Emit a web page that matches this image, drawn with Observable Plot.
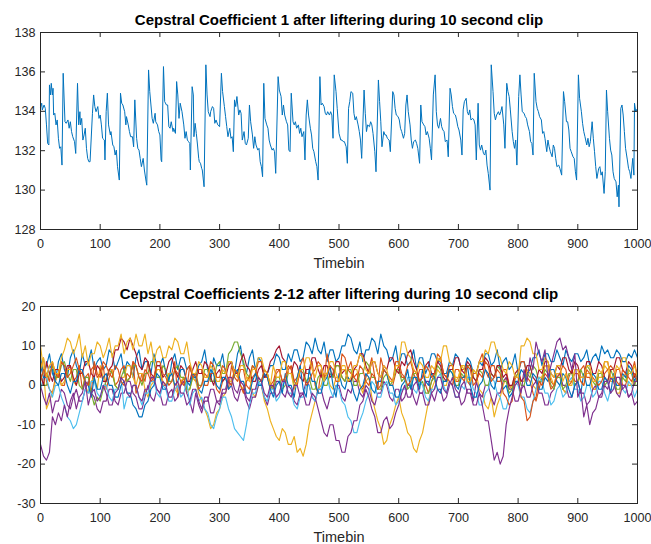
<!DOCTYPE html>
<html><head><meta charset="utf-8">
<script src="https://cdn.jsdelivr.net/npm/d3@7"></script>
<script src="https://cdn.jsdelivr.net/npm/@observablehq/plot@0.6"></script>
<style>
body{margin:0;background:#fff;}
#chart svg{display:block;}
</style></head><body><div id="chart"></div>
<script>
// ---- Data: coefficient 1 ----
const timebin1 = [0,2,3,6,8,10,12,14,15,17,18,20,21,22,24,26,28,30,32,34,36,38,41,43,46,48,50,52,54,57,59,62,64,66,67,69,71,73,75,77,79,81,83,87,89,91,93,96,98,100,102,104,107,108,110,112,114,117,118,121,123,125,127,129,132,134,136,138,141,143,144,147,149,151,154,156,158,161,163,165,167,169,172,174,177,178,181,183,185,187,189,192,193,196,198,200,202,203,206,208,211,213,215,217,219,222,223,226,228,230,232,234,237,240,242,244,246,248,250,251,254,256,257,259,261,263,265,266,268,270,271,274,277,279,281,284,285,288,290,292,294,297,300,303,305,308,310,312,314,317,319,321,323,325,327,329,332,334,336,338,341,343,345,348,350,352,355,357,359,361,364,366,368,370,372,374,376,379,381,383,385,388,390,392,394,398,400,403,405,407,409,412,414,416,418,420,423,425,427,429,432,434,436,438,441,443,445,447,449,452,454,456,458,461,463,465,468,470,472,475,477,479,481,484,486,488,490,492,495,497,500,503,505,507,509,512,514,516,518,520,523,525,527,529,532,534,536,538,542,544,546,548,551,553,555,557,560,562,566,568,570,572,575,577,579,581,584,586,590,592,594,596,599,601,603,605,608,610,612,614,616,619,621,623,625,628,630,632,635,637,639,642,644,646,648,651,653,655,658,661,663,665,667,670,672,674,676,678,681,683,686,688,690,692,695,697,699,701,704,706,708,710,713,715,717,719,721,724,726,728,730,733,735,737,739,742,744,746,748,750,753,755,758,760,762,764,767,769,771,773,776,778,781,783,785,787,790,792,794,796,798,801,803,805,807,810,812,814,816,819,821,823,825,827,830,832,834,836,839,841,843,845,848,850,852,854,857,859,861,863,865,868,870,873,876,878,881,883,885,887,889,892,894,896,898,901,903,906,908,910,912,915,917,919,921,924,926,928,930,932,935,937,939,941,944,946,948,950,953,955,957,959,961,964,966,968,969,972,974,976,978,980,983,985,987,989,992,994,995,997,999];
const coef1 = [134.2,134.41,134.07,134.32,134.15,133.31,132.37,132.29,135.34,134.83,135.42,134.83,135.17,133.81,133.9,133.31,133.56,132.63,132.12,132.2,131.27,135.93,133.47,133.39,133.56,133.14,133.47,132.97,132.71,132.46,131.86,135.42,133.31,133.98,133.31,133.64,132.54,132.8,133.14,132.12,131.61,131.44,131.44,133.9,134.83,134.24,133.98,134.24,133.64,133.81,133.31,132.63,132.54,131.53,133.98,134.92,133.31,132.8,132.97,132.29,132.2,131.78,132.03,131.19,130.51,134.92,134.41,134.32,133.98,133.31,133.73,133.31,132.97,132.71,132.71,132.2,134.58,132.63,132.12,132.03,131.61,131.19,131.61,131.02,130.42,130.25,136.1,135,134.32,133.64,133.39,133.9,133.47,133.31,132.97,132.8,131.53,131.44,136.27,134.49,134.32,134.32,133.22,133.14,133.47,132.97,133.14,132.88,135.51,134.83,133.64,134.41,133.98,133.31,132.63,132.97,132.54,132.46,132.37,131.02,135.25,134.83,132.71,133.39,132.88,132.29,131.61,131.44,131.36,131.1,131.02,130.17,136.36,134.83,133.98,133.73,133.98,134.24,134.15,133.39,133.56,133.31,133.22,135.93,135,134.24,133.73,133.22,132.71,133.14,132.63,132.71,131.95,134.58,134.24,134.75,133.81,134.07,133.9,132.54,132.97,132.37,132.29,132.63,134.32,133.47,132.8,132.12,132.71,132.29,132.03,132.12,131.44,131.19,130.68,135.42,133.64,133.31,133.14,132.54,132.29,132.03,132.12,131.95,130.85,135.76,135.08,134.75,133.81,134.32,133.81,133.47,133.31,132.03,131.95,134.92,133.47,133.31,133.47,133.14,133.31,132.88,133.14,132.71,132.97,131.53,133.81,134.58,133.81,133.14,132.8,132.12,131.95,131.44,131.19,130.51,135.76,134.32,134.41,134.24,133.9,133.81,133.98,133.81,133.98,133.81,132.63,135.85,135,134.15,132.88,132.54,132.54,132.46,132.46,132.2,131.36,134.15,134.49,135,134.92,133.9,133.56,133.73,133.31,132.97,132.54,131.61,135.08,133.9,132.97,133.31,133.22,133.47,133.31,132.88,131.95,130.93,135.59,134.49,133.47,132.2,132.97,132.8,132.8,132.63,132.54,131.95,135,134.83,134.15,133.81,133.73,133.56,133.14,132.97,132.63,132.88,134.32,134.83,133.98,133.31,132.54,132.12,132.46,132.54,132.37,132.12,131.36,134.32,133.47,133.31,133.22,132.8,132.97,132.63,132.12,131.53,134.83,135.85,133.98,133.31,133.14,133.64,133.22,133.05,132.97,132.46,132.54,131.69,135.17,134.83,134.24,133.9,133.81,133.56,133.22,133.05,132.54,131.78,134.07,134.49,134.66,133.98,133.81,134.07,133.56,133.64,133.56,133.31,131.53,134.41,132.29,132.03,132.29,131.86,131.78,132.03,131.27,130.85,130,136.36,135,133.9,133.56,133.81,133.98,133.81,133.98,134.24,133.31,132.12,135.42,135,134.75,134.07,132.97,132.46,132.12,132.54,131.27,134.75,135.85,134.83,133.98,133.9,133.73,133.64,133.31,132.97,132.46,132.37,131.78,135.93,134.49,134.15,133.98,133.73,133.56,132.88,132.97,132.63,131.95,132.54,132.2,131.95,131.69,132.29,132.12,131.61,131.19,131.27,131.1,130.76,135,134.49,133.47,133.47,133.05,132.12,131.95,131.69,131.61,130.93,130.51,135.85,134.66,133.98,133.39,132.97,132.71,132.29,132.63,132.2,132.46,133.47,132.63,131.95,131.19,130.59,131.1,131.19,130.76,130.93,129.83,130.93,135.08,133.98,132.63,132.03,131.78,130.93,130.59,130.42,129.66,130.25,129.15,134.15,134.32,133.81,132.97,132.12,131.53,131.1,130.93,130.59,131.61,130.76,134.41,133.98,134.1];

const timebin2 = [0,5,10,15,20,25,30,35,40,45,50,55,60,65,70,75,80,85,90,95,100,105,110,115,120,125,130,135,140,145,150,155,160,165,170,175,180,185,190,195,200,205,210,215,220,225,230,235,240,245,250,255,260,265,270,275,280,285,290,295,300,305,310,315,320,325,330,335,340,345,350,355,360,365,370,375,380,385,390,395,400,405,410,415,420,425,430,435,440,445,450,455,460,465,470,475,480,485,490,495,500,505,510,515,520,525,530,535,540,545,550,555,560,565,570,575,580,585,590,595,600,605,610,615,620,625,630,635,640,645,650,655,660,665,670,675,680,685,690,695,700,705,710,715,720,725,730,735,740,745,750,755,760,765,770,775,780,785,790,795,800,805,810,815,820,825,830,835,840,845,850,855,860,865,870,875,880,885,890,895,900,905,910,915,920,925,930,935,940,945,950,955,960,965,970,975,980,985,990,995,1000];
const c2 = [7,3,5,8,3,1,6,8,4,2,7,9,5,3,8,5,6,9,4,6, 7,4,5,9,8,4,6,8,3,6,5,2,7,9,4,6,6,3,8,5, 5,7,3,1,6,8,4,7,7,4,5,2,2,5,6,9,4,1,7,5, 5,8,3,6,6,3,8,10,5,3,7,9,4,7,6,2,3,5,5,8, 7,4,4,8,6,9,9,6,7,11,10,8,12,9,8,11,6,9,9,6, 7,10,10,13,12,9,8,11,6,9,9,12,11,8,13,10,9,6,7,10, 5,8,8,5,6,9,4,7,7,3,5,8,8,6,6,3,3,6,5,8, 7,4,4,7,6,3,3,6,5,8,8,5,6,9,4,6,7,4,5,8, 3,6,6,3,4,7,7,9,5,8,8,6,6,9,7,5,9,7,6,8, 8,6,7,9,5,7,8,6,10,8,9,7,7,9,8,6,6,8,7,9, 7];
const c3 = [4,7,1,-1,-2,2,3,0,0,4,5,1,2,5,-1,2,3,-2,6,3, 2,5,-1,2,4,0,1,4,5,1,2,6,-2,0,3,1,6,2,1,4, 4,0,0,3,3,6,-3,0,2,-1,5,2,1,4,4,0,0,3,3,-1, -2,1,2,-1,5,2,1,4,4,0,-1,2,3,6,6,2,2,-1,0,3, 4,1,1,4,5,1,2,5,7,3,3,6,0,-2,4,1,8,4,2,5, 5,2,1,4,6,2,3,0,-1,2,4,7,2,-1,7,4,3,0,0,3, 5,2,2,5,6,3,1,4,4,0,-2,1,3,6,7,3,2,5,5,1, 1,4,4,1,0,3,3,6,8,4,2,5,5,1,1,4,4,0,-1,2, 3,6,6,2,1,-2,-4,-1,2,5,5,1,0,3,3,-1,-2,2,4,1, 1,4,5,2,2,-1,-1,3,3,6,6,2,1,4,4,0,0,3,3,6, 2];
const c4 = [10,4,-6,-4,-2,1,3,0,1,4,4,1,0,3,3,0,-2,1,2,-1, 5,2,1,4,4,0,-1,2,2,5,5,2,0,3,3,-1,-3,0,1,4, 4,1,0,3,3,-1,-2,1,2,-2,-1,2,1,-2,-4,-6,-8,-11,-10,-7, -6,-3,-2,1,1,4,3,0,-1,2,2,-2,-3,0,0,-4,-6,-9,-11,-13, -14,-11,-12,-15,-15,-13,-17,-16,-18,-15,-10,-7,-4,-1,0,3,3,0,-1,2, 2,5,5,2,1,4,4,0,-2,1,2,-3,-6,-9,-11,-15,-14,-10,-8,-5, -3,-7,-9,-12,-13,-16,-17,-14,-12,-8,-4,-1,1,4,3,0,0,4,4,1, 2,5,5,2,1,4,3,-1,-2,-5,-6,-3,-8,-5,-3,0,2,-1,0,3, 4,1,1,4,3,0,-1,2,2,5,5,2,0,3,3,-1,-2,1,1,4, 4,1,0,3,3,-1,-1,2,2,5,4,1,1,-2,-2,2,3,0,0,3, 2];
const c5 = [0,-3,-5,-2,-7,-4,-4,-1,-2,-5,-6,-3,-1,-4,-4,-1,1,-2,-3,-6, -7,-4,-4,-1,-1,-4,-5,-2,-2,1,1,-2,-3,-6,-6,-3,0,-3,-4,-1, -2,-5,-5,-2,-1,-4,-3,0,1,-2,-4,-7,-2,-5,-7,-4,-4,-1,-1,-4, -5,-2,-2,1,0,-3,-4,-1,-1,-4,-6,-3,-3,0,0,-3,-5,-2,-2,1, 1,-2,-3,0,-1,-4,-5,-2,-2,1,0,-3,-4,-1,-1,-4,-6,-3,-3,0, 0,-3,-4,-1,-2,1,1,-2,-3,0,-1,-4,-5,-2,-2,1,0,-3,-4,-1, -1,-4,-3,0,0,-3,-5,-2,-2,1,1,-2,-4,-1,-1,-4,-3,0,2,-1, -2,-5,-4,-1,-1,-4,1,-2,-3,0,0,-3,-5,-2,-2,1,2,-1,-1,-4, -4,-1,0,-3,-3,0,1,-2,-2,-5,-5,-2,-1,2,3,0,0,-3,-3,0, 1,-2,-2,-5,-4,-1,0,-3,-3,0,-1,2,1,-2,-3,0,0,-3,-2,-5, -4];
const c6 = [3,0,0,3,5,2,2,5,6,3,1,4,4,0,-1,2,2,-2,-5,-3, -4,-1,1,4,3,0,-1,2,4,1,2,5,5,2,0,3,3,6,6,2, 2,5,4,1,1,4,5,2,2,-1,-1,2,3,0,0,4,4,1,1,5, 6,3,3,8,9,11,11,8,6,3,2,5,4,1,1,4,3,0,-1,2, 2,-1,0,3,3,0,1,4,4,1,2,-1,-1,2,3,0,0,3,2,5, 5,2,1,4,4,0,0,3,3,6,5,2,2,-1,-1,2,3,0,1,4, 4,1,2,-1,0,3,3,0,1,-2,-2,1,2,5,4,1,1,4,3,0, 0,3,2,5,5,2,1,4,3,0,0,3,2,5,4,1,1,-2,-1,2, 3,0,0,3,2,5,4,1,1,4,3,0,-1,2,2,-1,0,3,3,0, 1,4,2,5,4,1,0,3,3,0,1,4,2,-1,-1,2,1,4,3,0, 2];
const c7 = [-1,2,2,-1,-3,0,0,-3,-5,-8,-9,-11,-10,-7,-4,-1,-2,1,1,-2, -3,0,0,-3,-4,-1,-1,2,-6,-3,-3,0,0,-3,-5,-2,-2,1,1,-2, -3,0,-1,-4,-4,-1,0,-3,-2,1,-5,-2,-1,-4,-3,-6,-7,-10,-11,-8, -6,-3,-3,-6,-8,-11,-12,-13,-14,-10,-5,-2,-2,1,0,-3,-4,-1,-1,-4, -3,0,1,-2,-2,-5,-6,-3,-3,0,0,-3,-4,-1,-1,2,2,-1,-3,0, -1,-4,-5,-8,-9,-12,-12,-9,-7,-4,-2,1,0,-3,-3,0,1,-2,-2,-5, -4,-1,-1,2,2,-1,-2,1,0,-3,-4,-1,-1,2,3,0,-2,1,0,-3, -3,0,-1,2,2,-1,-2,-5,-5,-2,-1,2,1,-2,-3,-6,-6,-3,-2,1, 0,-3,-3,-6,-7,-4,-1,2,1,-2,-2,-5,-4,-1,0,-3,-2,1,2,-1, -1,-4,-3,0,0,-3,-2,1,1,-2,-4,-1,-1,2,2,-1,-2,1,0,-3, -1];
const c8 = [3,0,6,3,1,4,4,1,2,5,5,2,0,3,3,6,6,3,2,5, 4,1,1,4,5,9,9,12,11,9,12,10,8,5,4,7,6,3,2,5, 5,2,3,6,7,4,2,5,4,1,1,4,6,3,3,6,5,2,0,3, 4,1,2,5,6,3,3,6,8,5,4,1,1,4,5,2,3,6,7,9, 10,7,6,3,3,6,5,2,1,4,4,7,7,4,2,5,5,2,3,6, 6,3,4,1,1,4,5,8,8,5,3,6,6,3,2,5,4,7,7,4, 3,6,5,8,9,6,4,1,2,5,6,3,3,6,5,2,1,4,4,7, 7,4,3,6,5,2,1,4,4,7,6,3,2,5,5,2,3,0,0,3, 4,1,2,5,5,2,1,4,3,6,6,3,2,5,4,7,7,4,3,6, 5,2,2,6,6,3,3,6,5,2,1,4,4,7,7,4,3,6,5,2, 4];
const c9 = [5,2,2,5,4,1,0,3,3,0,-2,1,1,4,4,1,0,-3,2,-1, -1,2,3,0,0,-3,-3,0,1,-2,-2,-5,-6,-8,-8,-5,-4,-1,0,3, 2,-1,-1,2,3,0,1,4,4,1,0,3,2,-1,-2,1,1,4,3,0, -1,2,2,-1,0,3,4,1,1,-2,-2,1,3,0,0,3,2,-1,-3,0, 1,-2,3,0,0,-3,2,5,-1,-3,4,1,1,-2,-2,1,2,5,0,-3, 3,0,-1,2,1,-2,-4,-1,0,3,2,-1,-2,1,1,4,3,0,0,-3, -3,0,1,4,-1,2,2,-1,4,1,0,3,2,-1,-2,1,1,4,3,0, -1,2,2,5,0,-3,-3,0,1,4,3,0,-1,2,2,-1,0,-3,-2,1, 1,4,3,0,0,3,2,-1,-1,2,1,4,4,1,0,3,2,-1,-3,0, 1,-2,3,0,0,3,2,-1,-1,2,1,-2,3,0,0,3,2,5,4,1, 3];
const c10 = [1,4,3,1,6,3,2,6,5,2,3,5,7,4,3,1,0,4,5,2, 3,6,5,3,2,5,4,1,0,3,2,6,5,2,1,4,3,1,2,6, 6,3,2,0,1,4,3,1,0,4,5,2,3,-1,0,3,2,6,5,2, 2,5,4,1,0,4,3,0,-2,1,2,5,4,2,1,4,3,0,1,4, 4,1,2,5,4,1,0,4,3,0,1,3,4,6,5,2,3,5,4,1, 1,8,7,4,3,2,1,5,4,1,0,3,2,-1,0,4,3,2,1,6, 6,3,2,0,1,4,3,1,2,5,4,2,3,8,7,3,2,1,0,4, 4,2,1,5,4,0,1,3,2,6,5,1,2,4,3,-2,-3,-5,-4,2, 2,-3,-4,-9,-8,-4,-3,1,0,3,2,-1,0,2,3,5,4,0,1,3, 3,1,0,4,3,2,1,0,1,3,4,5,4,1,0,4,3,2,1,3, 1];
const c11 = [4,7,2,5,6,3,3,7,9,12,11,8,10,13,7,10,5,8,8,11, 10,7,9,12,7,10,10,13,8,11,12,9,13,10,10,13,8,11,6,9, 10,7,7,10,9,12,11,8,8,11,6,3,3,6,5,2,2,5,4,1, 1,4,3,6,6,3,2,5,5,2,1,4,4,7,7,4,3,0,5,2, 2,6,6,3,3,-1,1,4,4,7,7,4,2,5,5,1,3,6,6,3, 1,4,4,1,2,5,5,8,7,4,3,6,6,3,2,5,4,1,1,5, 5,11,11,8,7,4,3,6,5,2,2,5,4,7,6,10,10,6,5,2, 2,5,4,1,1,4,3,6,6,9,8,11,11,8,7,4,3,6,5,2, 2,10,10,12,11,8,8,4,4,7,6,3,2,5,5,1,3,0,0,4, 4,2,2,5,5,1,1,4,3,6,6,2,2,5,4,7,7,3,3,5, 2];
const c12 = [-15,-18,-19,-17,-8,-10,-7,-9,-5,-8,-4,-2,-6,-3,-2,1,-5,-2,-1,-4, -3,0,-2,-5,-5,-2,-1,2,1,-2,-3,0,0,-3,-4,-1,-1,2,2,-1, -2,1,0,-3,-3,0,1,-2,-2,-5,-4,-1,-1,-4,-6,-3,-3,-7,-7,-4, -4,-1,-1,2,2,-1,-2,1,0,-3,-4,-1,-1,2,1,-2,-3,0,0,-3, -2,1,1,-2,-3,0,0,-3,-2,-5,-5,-2,-3,-6,-9,-12,-13,-10,-10,-14, -14,-17,-17,-13,-12,-9,-9,-5,-4,-1,-3,-6,-8,-12,-12,-9,-8,-11,-10,-7, -5,-2,0,-3,-3,0,1,-2,-2,-5,-5,-2,-1,2,2,-1,-2,1,0,-3, -3,0,1,-2,-2,-5,-5,-2,-5,-9,-9,-14,-19,-17,-20,-18,-10,-6,-3,0, 1,-2,4,1,7,4,11,8,6,9,2,5,8,11,12,9,10,7,4,8, -3,-1,-8,-5,-10,-7,-6,-3,-2,1,1,-2,-1,2,2,-1,0,-3,-2,1, 1];

const seriesNames = ["C2","C3","C4","C5","C6","C7","C8","C9","C10","C11","C12"];
const seriesValues = [c2,c3,c4,c5,c6,c7,c8,c9,c10,c11,c12];
const seriesColors = ["#0072BD","#D95319","#EDB120","#7E2F8E","#77AC30","#4DBEEE","#A2142F","#0072BD","#D95319","#EDB120","#7E2F8E"];

const xTicks = [0,100,200,300,400,500,600,700,800,900,1000];
const yTicks1 = [128,130,132,134,136,138];
const yTicks2 = [-30,-20,-10,0,10,20];
const titles = ["Cepstral Coefficient 1 after liftering during 10 second clip",
                "Cepstral Coefficients 2-12 after liftering during 10 second clip"];
const xLabel = "Timebin";

// ---- Build tables ----
const rows1 = timebin1.map((t, i) => ({t, v: coef1[i]}));
const rows2 = seriesNames.flatMap((s, k) => timebin2.map((t, i) => ({t, v: seriesValues[k][i], s})));

const ink = "#262626";
const font = "'Liberation Sans', Arial, Helvetica, sans-serif";
const W = 651, H = 272, ML = 40, MR = 14;
const plotW = W - ML - MR;
const tickLen = 5;
const xDomain = [xTicks[0], xTicks[xTicks.length - 1]];

// MATLAB-style box: inward ticks on all four sides, labels on left/bottom
function boxAxes(yTicks, plotH) {
  const yDomain = [yTicks[0], yTicks[yTicks.length - 1]];
  const ky = (yDomain[1] - yDomain[0]) * tickLen / plotH;   // tick length in y units
  const kx = (xDomain[1] - xDomain[0]) * tickLen / plotW;   // tick length in x units
  return [
    Plot.ruleX(xTicks, {x: d => d, y1: yDomain[0], y2: yDomain[0] + ky, stroke: ink}),
    Plot.ruleX(xTicks, {x: d => d, y1: yDomain[1] - ky, y2: yDomain[1], stroke: ink}),
    Plot.ruleY(yTicks, {y: d => d, x1: xDomain[0], x2: xDomain[0] + kx, stroke: ink}),
    Plot.ruleY(yTicks, {y: d => d, x1: xDomain[1] - kx, x2: xDomain[1], stroke: ink}),
    Plot.axisX(xTicks, {anchor: "bottom", tickSize: 0, tickPadding: 10, fill: ink, fontSize: 12.6,
      tickFormat: d => String(d), label: null}),
    Plot.axisY(yTicks, {anchor: "left", tickSize: 0, tickPadding: 5, fill: ink, fontSize: 12.6,
      tickFormat: d => String(d), label: null}),
    Plot.text([xLabel], {text: d => d, frameAnchor: "bottom", dy: 33.5, lineAnchor: "middle",
      fontSize: 14.5, fill: ink}),
    Plot.frame({stroke: ink, strokeWidth: 1})
  ];
}

function titleMark(t) {
  return Plot.text([t], {text: d => d, frameAnchor: "top", dy: -12, lineAnchor: "middle",
    fontWeight: "bold", fontSize: 15, fill: "#000"});
}

const chart1 = Plot.plot({
  width: W, height: H,
  marginLeft: ML, marginRight: MR, marginTop: 32, marginBottom: 43,
  style: {fontFamily: font, fontSize: "12px", background: "white", color: ink},
  x: {domain: xDomain},
  y: {domain: [yTicks1[0], yTicks1[yTicks1.length - 1]]},
  marks: [
    Plot.line(rows1, {x: "t", y: "v", stroke: "#0072BD", strokeWidth: 1}),
    ...boxAxes(yTicks1, H - 32 - 43),
    titleMark(titles[0])
  ]
});

const chart2 = Plot.plot({
  width: W, height: H,
  marginLeft: ML, marginRight: MR, marginTop: 34, marginBottom: 41,
  style: {fontFamily: font, fontSize: "12px", background: "white", color: ink},
  x: {domain: xDomain},
  y: {domain: [yTicks2[0], yTicks2[yTicks2.length - 1]]},
  color: {domain: seriesNames, range: seriesColors},
  marks: [
    Plot.line(rows2, {x: "t", y: "v", z: "s", stroke: "s", strokeWidth: 1.15}),
    ...boxAxes(yTicks2, H - 34 - 41),
    titleMark(titles[1])
  ]
});

document.getElementById("chart").append(chart1, chart2);
</script></body></html>
